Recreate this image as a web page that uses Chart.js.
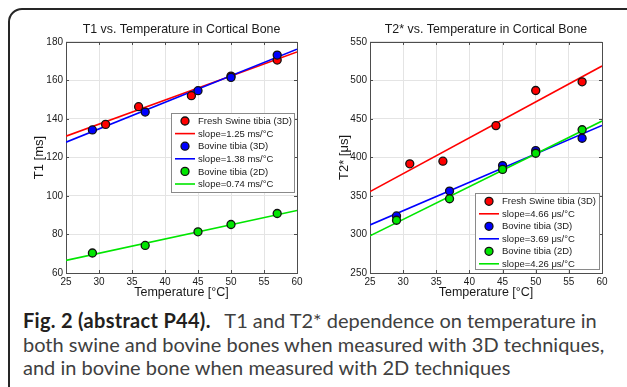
<!DOCTYPE html>
<html>
<head>
<meta charset="utf-8">
<script src="https://cdn.jsdelivr.net/npm/chart.js@4.4.1/dist/chart.umd.min.js"></script>
<style>
  html, body { margin: 0; padding: 0; background: #fff; }
  body { width: 627px; height: 387px; position: relative; overflow: hidden; }
  .frame {
    position: absolute; left: 8px; top: 8px; width: 640px; height: 392px;
    border: 2px solid #262626; border-radius: 14px; box-sizing: border-box;
  }
  #t1Chart { position: absolute; left: 0; top: 0; }
  #t2Chart { position: absolute; left: 310px; top: 0; }
  .caption {
    position: absolute; left: 23px; top: 309px; width: 600px;
    font-family: Lato, sans-serif; font-size: 20px; line-height: 23.5px;
    color: #404040; white-space: nowrap;
  }
  .caption b { color: #231f20; font-weight: 700; letter-spacing: 0.3px; margin-right: 4px; }
</style>
</head>
<body>
<div class="frame"></div>
<canvas id="t1Chart" width="313" height="305"></canvas>
<canvas id="t2Chart" width="310" height="305"></canvas>
<div class="caption">
  <b>Fig. 2 (abstract P44).</b>&nbsp; T1 and T2* dependence on temperature in<br>
  both swine and bovine bones when measured with 3D techniques,<br>
  and in bovine bone when measured with 2D techniques
</div>
<script>
// measurement temperatures (°C)
const tempSwine = [31, 36, 44, 50, 57];
const tempBovine = [29, 37, 45, 50, 57];

// T1 [ms]
const t1Swine3D = [137.2, 146.4, 152.1, 162.3, 170.6];
const t1Bovine3D = [134.3, 143.6, 154.7, 161.6, 173.2];
const t1Bovine2D = [70.4, 74.3, 81.4, 85.2, 90.9];
const t1Slopes = [1.25, 1.38, 0.74];
const t1Intercepts = [99.8, 93.45, 48.05];

// T2* [µs]
const t2Swine3D = [391.8, 395.2, 441.4, 487.0, 498.3];
const t2Bovine3D = [324.1, 356.4, 389.5, 409.0, 425.0];
const t2Bovine2D = [318.5, 346.4, 384.5, 405.5, 436.0];
const t2Slopes = [4.66, 3.69, 4.26];
const t2Intercepts = [239.2, 220.2, 191.75];

const fitRange = [25, 60];
const seriesNames = ['Fresh Swine tibia (3D)', 'Bovine tibia (3D)', 'Bovine tibia (2D)'];
const seriesColors = ['#ff0000', '#0000ff', '#00e600'];

const FONT = '"Liberation Sans", Arial, sans-serif';
Chart.defaults.font.family = FONT;
Chart.defaults.color = '#1a1a1a';

// MATLAB-style box around the axes with inward ticks
const axesBox = {
  id: 'axesBox',
  beforeDatasetsDraw(chart) {
    const { ctx, chartArea: a, scales } = chart;
    ctx.save();
    ctx.strokeStyle = '#4d4d4d';
    ctx.lineWidth = 1;
    ctx.beginPath();
    scales.x.ticks.forEach(t => {
      const px = Math.round(scales.x.getPixelForValue(t.value)) + 0.5;
      ctx.moveTo(px, a.bottom); ctx.lineTo(px, a.bottom - 3);
      ctx.moveTo(px, a.top); ctx.lineTo(px, a.top + 3);
    });
    scales.y.ticks.forEach(t => {
      const py = Math.round(scales.y.getPixelForValue(t.value)) + 0.5;
      ctx.moveTo(a.left, py); ctx.lineTo(a.left + 3, py);
      ctx.moveTo(a.right, py); ctx.lineTo(a.right - 3, py);
    });
    ctx.stroke();
    ctx.strokeRect(Math.round(a.left) + 0.5, Math.round(a.top) + 0.5,
      Math.round(a.width), Math.round(a.height));
    ctx.restore();
  }
};

// legend box inside the axes, one row per dataset
const boxLegend = {
  id: 'boxLegend',
  afterDatasetsDraw(chart, args, o) {
    const ctx = chart.ctx;
    ctx.save();
    ctx.fillStyle = '#fff';
    ctx.fillRect(o.left, o.top, o.width, o.height);
    ctx.strokeStyle = '#8a8a8a';
    ctx.lineWidth = 1;
    ctx.strokeRect(o.left + 0.5, o.top + 0.5, o.width, o.height);
    ctx.font = '9.5px ' + FONT;
    ctx.textBaseline = 'middle';
    chart.data.datasets.forEach((d, i) => {
      const y = o.top + o.firstRow + i * o.rowH;
      if (d.type === 'line') {
        ctx.strokeStyle = d.borderColor;
        ctx.lineWidth = 1.6;
        ctx.beginPath();
        ctx.moveTo(o.left + 4, y); ctx.lineTo(o.left + 24, y);
        ctx.stroke();
      } else {
        ctx.fillStyle = d.backgroundColor;
        ctx.strokeStyle = '#111';
        ctx.lineWidth = 1.3;
        ctx.beginPath();
        ctx.arc(o.left + 14, y, 4, 0, Math.PI * 2);
        ctx.fill(); ctx.stroke();
      }
      ctx.fillStyle = '#1a1a1a';
      ctx.fillText(d.label, o.left + 27, y + 0.5);
    });
    ctx.restore();
  }
};

Chart.register(axesBox, boxLegend);

function buildDatasets(xsList, ysList, slopes, intercepts, unit) {
  const datasets = [];
  ysList.forEach((ys, i) => {
    datasets.push({
      type: 'scatter', label: seriesNames[i],
      data: ys.map((y, k) => ({ x: xsList[i][k], y })),
      backgroundColor: seriesColors[i], borderColor: '#111',
      pointRadius: 4, pointBorderWidth: 1.3, order: 3 - i,
    });
    datasets.push({
      type: 'line', label: 'slope=' + slopes[i].toFixed(2) + ' ' + unit,
      data: fitRange.map(x => ({ x, y: intercepts[i] + slopes[i] * x })),
      borderColor: seriesColors[i], borderWidth: 1.6,
      pointRadius: 0, fill: false, order: 6 - i,
    });
  });
  return datasets;
}

function makeChart(id, cfg) {
  return new Chart(document.getElementById(id), {
    type: 'scatter',
    data: { datasets: cfg.datasets },
    options: {
      responsive: false, animation: false,
      layout: { padding: { left: 0, right: cfg.padRight, top: 0, bottom: 0 } },
      plugins: {
        legend: { display: false },
        tooltip: { enabled: false },
        title: {
          display: true, text: cfg.title, fullSize: false,
          font: { size: 12.4, weight: 'normal' }, color: '#1a1a1a',
          padding: { top: 22.5, bottom: 4.6 },
        },
        boxLegend: cfg.legend,
      },
      scales: {
        x: {
          type: 'linear', min: 25, max: 60,
          ticks: { stepSize: 5, padding: 3, font: { size: 10 }, color: '#1a1a1a' },
          grid: { color: '#e4e4e4', drawTicks: false },
          border: { display: false },
          title: { display: true, text: 'Temperature [°C]', font: { size: 12.5 }, color: '#1a1a1a', padding: { top: 0, bottom: 4.5 } },
          afterFit: s => { s.height = 32; },
        },
        y: {
          min: cfg.yMin, max: cfg.yMax,
          ticks: { stepSize: cfg.yStep, padding: 3, font: { size: 10 }, color: '#1a1a1a' },
          grid: { color: '#e4e4e4', drawTicks: false },
          border: { display: false },
          title: { display: true, text: cfg.yTitle, font: { size: 13 }, color: '#1a1a1a', padding: { top: cfg.yTitlePad, bottom: 0 } },
          afterFit: s => { s.width = cfg.yWidth; },
        },
      },
    },
  });
}

makeChart('t1Chart', {
  title: 'T1 vs. Temperature in Cortical Bone',
  datasets: buildDatasets([tempSwine, tempBovine, tempBovine],
    [t1Swine3D, t1Bovine3D, t1Bovine2D], t1Slopes, t1Intercepts, 'ms/°C'),
  yMin: 60, yMax: 180, yStep: 20, yTitle: 'T1 [ms]',
  yWidth: 66, yTitlePad: 32, padRight: 16,
  legend: { left: 171, top: 113, width: 123, height: 79, firstRow: 8, rowH: 12.6 },
});

makeChart('t2Chart', {
  title: 'T2* vs. Temperature in Cortical Bone',
  datasets: buildDatasets([tempSwine, tempBovine, tempBovine],
    [t2Swine3D, t2Bovine3D, t2Bovine2D], t2Slopes, t2Intercepts, 'μs/°C'),
  yMin: 250, yMax: 550, yStep: 50, yTitle: 'T2* [μs]',
  yWidth: 60, yTitlePad: 27, padRight: 18,
  legend: { left: 165, top: 193, width: 124, height: 76, firstRow: 8.3, rowH: 12.5 },
});
</script>
</body>
</html>
